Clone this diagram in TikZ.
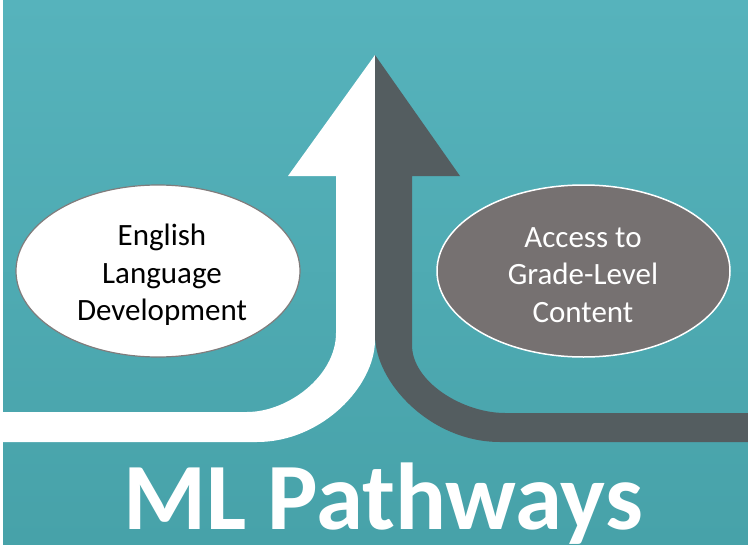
\documentclass[tikz,border=0pt]{standalone}
\usepackage{fontspec}
\setmainfont{Carlito}
\usetikzlibrary{shapes.geometric}
\definecolor{tealtop}{HTML}{56B3BC}
\definecolor{tealbot}{HTML}{47A2A9}
\definecolor{darkpath}{HTML}{545D60}
\definecolor{ovalgray}{HTML}{767171}
\definecolor{ovalline}{HTML}{807C7C}
\tikzset{
  oval/.style={ellipse, inner sep=0pt},
  ovaltext/.style={align=center, inner sep=0pt, font=\fontsize{31}{37.5}\selectfont},
}
\begin{document}
\begin{tikzpicture}[x=1pt, y=-1pt]
\useasboundingbox (0,0) rectangle (748,546);
\fill[white] (0,0) rectangle (748,546);
\shade[top color=tealtop, bottom color=tealbot] (3,0) rectangle (748,544);
% white path
\fill[white] (375,55) -- (288,176) -- (336,176) -- (336,333)
  .. controls (336,376) and (288,412) .. (247,412) -- (3,412) -- (3,442) -- (257,442)
  .. controls (322,442) and (375,386) .. (375,340) -- cycle;
% dark path
\fill[darkpath] (375,55) -- (460,176) -- (412,176) -- (412,345)
  .. controls (412,382) and (463,413) .. (505,413) -- (748,413) -- (748,442) -- (500,442)
  .. controls (431,442) and (375,383) .. (375,335) -- cycle;
% ovals
\node[oval, draw=ovalline, line width=1.2pt, fill=white, minimum width=284pt, minimum height=172pt] (eld) at (158,271) {};
\node[ovaltext, text=black] (eldtext) at (162,275) {English\\Language\\Development};
\node[oval, draw=white, line width=1.5pt, fill=ovalgray, minimum width=293pt, minimum height=172pt] (agl) at (583.5,271) {};
\node[ovaltext, text=white] (agltext) at (583,275) {Access to\\Grade-Level\\Content};
% title
\node[anchor=base, inner sep=0pt, text=white, font=\fontsize{95}{105}\selectfont\bfseries] (title) at (383,529) {ML Pathways};
\end{tikzpicture}
\end{document}
